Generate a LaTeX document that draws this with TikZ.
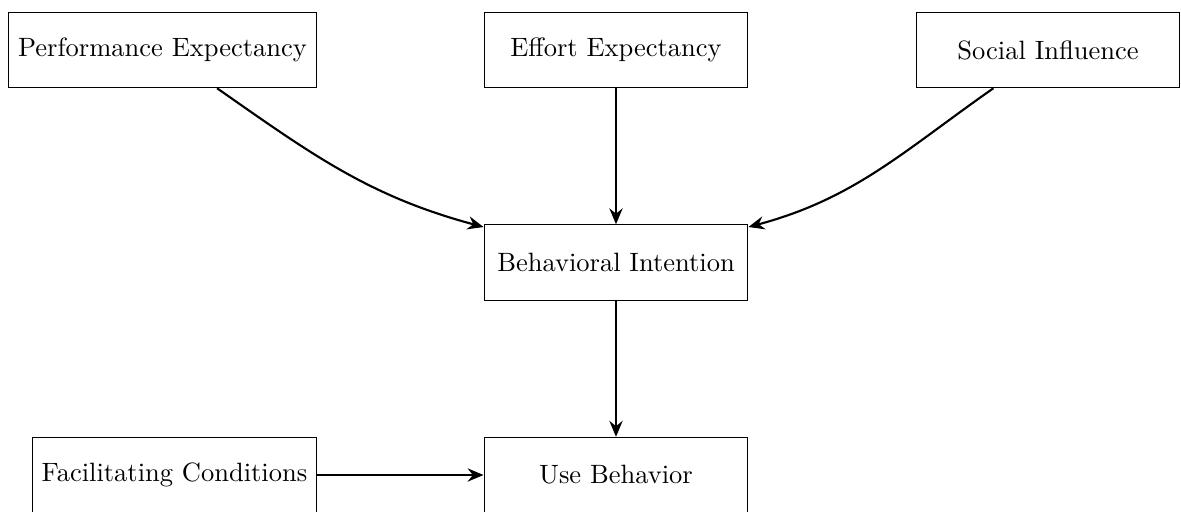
\documentclass[tikz,border=0pt]{standalone}
\usetikzlibrary{arrows.meta}
\begin{document}
\begin{tikzpicture}[x=0.3774pt, y=-0.3774pt,
  box/.style={draw, minimum width=3.5cm, minimum height=1cm, inner sep=3.5pt},
  link/.style={thick, -{Stealth[length=6pt, width=5pt, inset=2pt]}}]
  \useasboundingbox (0,0) rectangle (1181,511);
  % construct boxes
  \node[box] (pe) at (162.5,50) {Performance Expectancy};
  \node[box] (ee) at (616,50)   {Effort Expectancy};
  \node[box] (si) at (1048,50)  {Social Influence};
  \node[box] (bi) at (616,262.5) {Behavioral Intention};
  \node[box] (fc) at (174.5,475) {Facilitating Conditions};
  \node[box] (ub) at (616,475)  {Use Behavior};
  % paths
  \draw[link] (pe) to[out=-35, in=165] (bi);
  \draw[link] (ee) -- (bi);
  \draw[link] (si) to[out=-145, in=15] (bi);
  \draw[link] (bi) -- (ub);
  \draw[link] (fc) -- (ub);
\end{tikzpicture}
\end{document}
